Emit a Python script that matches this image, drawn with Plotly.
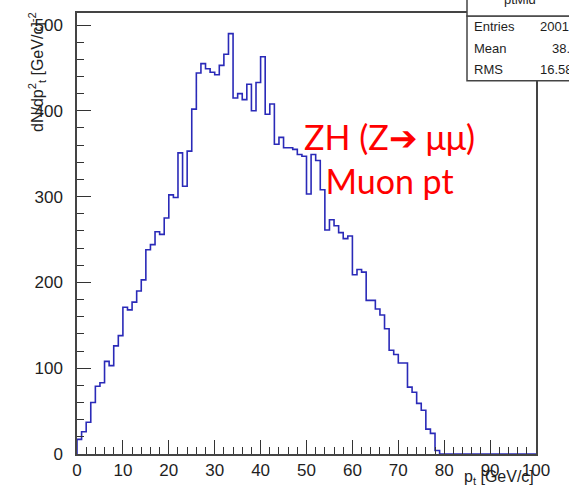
import plotly.graph_objects as go

# ---------------- data ----------------
bin_edges_low = list(range(0, 100))  # 1 GeV/c bins, 0..100
counts = [17, 26, 37, 60, 79, 83, 108, 103, 126, 138,
          171, 168, 177, 190, 203, 238, 244, 259, 256, 275,
          302, 299, 351, 312, 353, 402, 444, 455, 449, 445,
          442, 453, 466, 490, 415, 420, 413, 431, 400, 433,
          463, 396, 408, 361, 369, 357, 357, 355, 349, 347,
          303, 349, 342, 308, 261, 273, 266, 258, 251, 254,
          209, 215, 212, 179, 179, 169, 162, 146, 121, 116,
          106, 106, 78, 72, 59, 51, 29, 24, 4, 0,
          0, 0, 0, 0, 0, 0, 0, 0, 0, 0,
          0, 0, 0, 0, 0, 0, 0, 0, 0, 0]
x_tick_vals = [0, 10, 20, 30, 40, 50, 60, 70, 80, 90, 100]
y_tick_vals = [0, 100, 200, 300, 400, 500]
stats_labels = ["Entries", "Mean", "RMS"]
stats_values = ["200125", "38.45", "16.58"]
hist_name = "ptMid"

# ---------------- geometry helpers ----------------
W, H = 569, 493
ML, MR, MT, MB = 77, 33, 11, 39
PW, PH = W - ML - MR, H - MT - MB

def xp(px):
    return (px - ML) / PW

def yp(py):
    return (H - MB - py) / PH

# step outline
xs = [0] + bin_edges_low + [100]
ys = [0] + counts + [counts[-1]]

fig = go.Figure()
fig.add_trace(go.Scatter(
    x=xs, y=ys, mode="lines", line_shape="hv",
    line=dict(color="#2a2ab8", width=1.6), hoverinfo="skip", showlegend=False))

axis_font = dict(family="Liberation Sans, Arial, sans-serif", size=17, color="#1e1e1e")
fig.update_xaxes(
    range=[0, 100], tickvals=x_tick_vals, ticks="inside", ticklen=14, tickwidth=1.3,
    tickcolor="#333", showline=True, linecolor="#444", linewidth=1.5, mirror=True,
    showgrid=False, zeroline=False, tickfont=axis_font,
    minor=dict(ticks="inside", ticklen=7, dtick=2, tickwidth=1.2, tickcolor="#333", showgrid=False))
fig.update_yaxes(
    range=[0, 514], tickvals=y_tick_vals, ticks="inside", ticklen=14, tickwidth=1.3,
    tickcolor="#333", showline=True, linecolor="#444", linewidth=1.5, mirror=True,
    showgrid=False, zeroline=False, tickfont=axis_font, ticklabelstandoff=9,
    minor=dict(ticks="inside", ticklen=7, dtick=20, tickwidth=1.2, tickcolor="#333", showgrid=False))

ann = []
# y axis title
ann.append(dict(xref="paper", yref="paper", x=xp(37), y=yp(8), xanchor="center", yanchor="top",
                text="dN/dp<sup>2</sup><sub>t</sub> [GeV/c]<sup>-2</sup>", textangle=-90, showarrow=False,
                font=dict(family="Liberation Sans, Arial, sans-serif", size=16, color="#222")))
# x axis title
ann.append(dict(xref="paper", yref="paper", x=xp(536), y=yp(489), xanchor="right", yanchor="bottom",
                text="p<sub>t</sub> [GeV/c]", showarrow=False,
                font=dict(family="Liberation Sans, Arial, sans-serif", size=16, color="#222")))
# red label
ann.append(dict(xref="paper", yref="paper", x=xp(389), y=yp(157), xanchor="center", yanchor="middle",
                text="ZH (Z\u2794 \u03bc\u03bc)<br>Muon pt", showarrow=False, align="center",
                font=dict(family="Lato, sans-serif", size=34, color="#ff0000")))

shapes = []
# stats box (title row + body)
shapes.append(dict(type="rect", xref="paper", yref="paper", x0=xp(467), x1=xp(590), y0=yp(79), y1=yp(14),
                   fillcolor="white", line=dict(color="#444", width=1.5), layer="above"))
shapes.append(dict(type="rect", xref="paper", yref="paper", x0=xp(467), x1=xp(590), y0=yp(14), y1=yp(-20),
                   fillcolor="white", line=dict(color="#444", width=1.5), layer="above"))
stat_font = dict(family="Liberation Sans, Arial, sans-serif", size=13, color="#1e1e1e")
row_y = [25, 47, 68]
val_x = [538, 550, 538]
for lab, val, ry, vx in zip(stats_labels, stats_values, row_y, val_x):
    ann.append(dict(xref="paper", yref="paper", x=xp(472), y=yp(ry), xanchor="left", yanchor="middle",
                    text=lab, showarrow=False, font=stat_font))
    ann.append(dict(xref="paper", yref="paper", x=xp(vx), y=yp(ry), xanchor="left", yanchor="middle",
                    text=val, showarrow=False, font=stat_font))
ann.append(dict(xref="paper", yref="paper", x=xp(520), y=yp(-3), xanchor="center", yanchor="middle",
                text=hist_name, showarrow=False, font=stat_font))

fig.update_layout(
    width=W, height=H, margin=dict(l=ML, r=MR, t=MT, b=MB, pad=0),
    paper_bgcolor="white", plot_bgcolor="white",
    annotations=ann, shapes=shapes, showlegend=False)

fig.write_html("out.html")
